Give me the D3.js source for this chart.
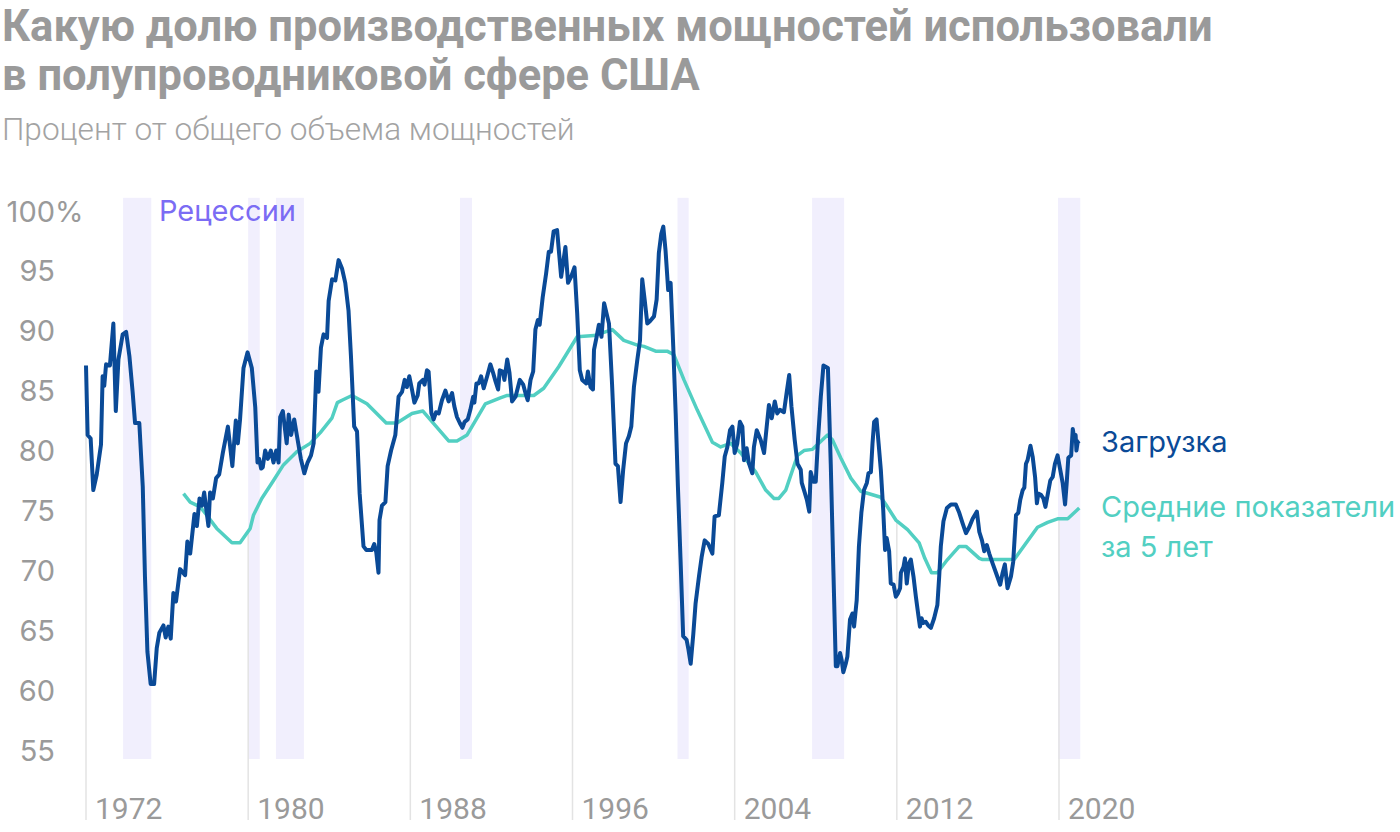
<!DOCTYPE html>
<html>
<head>
<meta charset="utf-8">
<script src="https://cdn.jsdelivr.net/npm/d3@7"></script>
<style>
  body { margin: 0; background: #fff; }
  svg { display: block; }
</style>
</head>
<body>
<div id="chart"></div>
<script>
// Utilisation, % of capacity
const loadYears = [
  1972.00, 1972.08, 1972.23, 1972.36, 1972.53, 1972.74, 1972.82, 1972.90, 1972.99, 1973.18,
  1973.35, 1973.47, 1973.60, 1973.81, 1973.98, 1974.14, 1974.30, 1974.42, 1974.63, 1974.80,
  1974.91, 1975.03, 1975.19, 1975.36, 1975.49, 1975.62, 1975.82, 1975.93, 1976.06, 1976.18,
  1976.31, 1976.44, 1976.64, 1976.89, 1977.00, 1977.14, 1977.35, 1977.47, 1977.60, 1977.72,
  1977.83, 1978.04, 1978.12, 1978.26, 1978.42, 1978.57, 1978.75, 1979.00, 1979.22, 1979.39,
  1979.49, 1979.60, 1979.77, 1979.97, 1980.18, 1980.35, 1980.46, 1980.54, 1980.64, 1980.72,
  1980.84, 1980.97, 1981.12, 1981.25, 1981.38, 1981.50, 1981.58, 1981.71, 1981.90, 1982.00,
  1982.12, 1982.27, 1982.40, 1982.60, 1982.77, 1982.93, 1983.10, 1983.23, 1983.36, 1983.47,
  1983.59, 1983.72, 1983.89, 1983.97, 1984.14, 1984.30, 1984.46, 1984.63, 1984.79, 1984.95,
  1985.07, 1985.23, 1985.37, 1985.50, 1985.69, 1985.83, 1986.10, 1986.22, 1986.32, 1986.43,
  1986.48, 1986.60, 1986.77, 1986.88, 1987.05, 1987.26, 1987.42, 1987.59, 1987.72, 1987.83,
  1987.95, 1988.08, 1988.20, 1988.36, 1988.44, 1988.62, 1988.70, 1988.82, 1988.90, 1989.04,
  1989.15, 1989.27, 1989.40, 1989.56, 1989.73, 1989.89, 1990.06, 1990.17, 1990.30, 1990.44,
  1990.57, 1990.68, 1990.83, 1990.96, 1991.10, 1991.16, 1991.26, 1991.37, 1991.49, 1991.62,
  1991.79, 1991.95, 1992.08, 1992.20, 1992.33, 1992.41, 1992.56, 1992.64, 1992.78, 1992.89,
  1993.02, 1993.19, 1993.40, 1993.57, 1993.68, 1993.79, 1993.93, 1994.06, 1994.17, 1994.29,
  1994.38, 1994.53, 1994.70, 1994.83, 1994.94, 1995.07, 1995.24, 1995.44, 1995.65, 1995.78,
  1995.93, 1996.10, 1996.23, 1996.36, 1996.48, 1996.68, 1996.76, 1996.89, 1997.01, 1997.06,
  1997.18, 1997.30, 1997.43, 1997.56, 1997.80, 1997.95, 1998.12, 1998.24, 1998.37, 1998.50,
  1998.64, 1998.78, 1998.90, 1999.03, 1999.20, 1999.33, 1999.44, 1999.56, 1999.69, 1999.82,
  2000.02, 2000.15, 2000.26, 2000.38, 2000.48, 2000.59, 2000.72, 2000.84, 2000.97, 2001.09,
  2001.20, 2001.33, 2001.46, 2001.63, 2001.72, 2001.83, 2001.96, 2002.07, 2002.24, 2002.37,
  2002.52, 2002.70, 2002.90, 2003.01, 2003.22, 2003.39, 2003.51, 2003.64, 2003.77, 2003.89,
  2004.00, 2004.13, 2004.26, 2004.38, 2004.46, 2004.59, 2004.71, 2004.87, 2004.95, 2005.09,
  2005.28, 2005.45, 2005.58, 2005.69, 2005.83, 2005.98, 2006.10, 2006.23, 2006.43, 2006.57,
  2006.69, 2006.80, 2006.96, 2007.10, 2007.26, 2007.31, 2007.42, 2007.56, 2007.68, 2007.75,
  2007.88, 2008.00, 2008.11, 2008.25, 2008.38, 2008.49, 2008.60, 2008.74, 2008.87, 2008.99,
  2009.07, 2009.20, 2009.28, 2009.36, 2009.48, 2009.56, 2009.69, 2009.81, 2009.89, 2010.02,
  2010.13, 2010.25, 2010.38, 2010.52, 2010.60, 2010.72, 2010.80, 2010.88, 2011.00, 2011.10,
  2011.21, 2011.33, 2011.42, 2011.50, 2011.62, 2011.70, 2011.84, 2011.95, 2012.06, 2012.16,
  2012.20, 2012.33, 2012.40, 2012.49, 2012.60, 2012.69, 2012.82, 2012.94, 2013.05, 2013.14,
  2013.22, 2013.30, 2013.43, 2013.55, 2013.68, 2013.84, 2014.00, 2014.09, 2014.17, 2014.30,
  2014.47, 2014.67, 2014.91, 2015.08, 2015.25, 2015.41, 2015.57, 2015.74, 2015.95, 2016.07,
  2016.20, 2016.31, 2016.44, 2016.56, 2016.72, 2016.89, 2017.10, 2017.22, 2017.33, 2017.46,
  2017.63, 2017.74, 2017.88, 2017.99, 2018.09, 2018.21, 2018.29, 2018.37, 2018.45, 2018.59,
  2018.70, 2018.82, 2018.91, 2018.98, 2019.11, 2019.23, 2019.33, 2019.44, 2019.57, 2019.69,
  2019.80, 2019.93, 2020.05, 2020.18, 2020.30, 2020.38, 2020.46, 2020.60, 2020.68, 2020.76,
  2020.82, 2020.86, 2020.92, 2021.00
];
const loadValues = [
  87.1, 81.3, 81.0, 76.7, 78.0, 80.5, 86.2, 85.4, 87.2, 87.1,
  90.6, 83.3, 87.6, 89.7, 89.9, 87.9, 84.9, 82.3, 82.3, 77.0,
  69.4, 63.2, 60.5, 60.5, 63.5, 64.8, 65.4, 64.4, 65.3, 64.3,
  68.1, 67.4, 70.1, 69.6, 72.4, 71.4, 74.7, 73.7, 76.0, 75.4,
  76.5, 73.7, 76.5, 76.0, 77.7, 78.0, 79.8, 82.0, 78.7, 82.5,
  80.6, 82.6, 86.9, 88.2, 86.9, 83.6, 79.0, 79.3, 78.5, 78.6,
  80.0, 79.3, 80.0, 79.0, 80.0, 79.0, 82.8, 83.3, 80.6, 83.0,
  81.3, 82.6, 81.3, 79.3, 78.1, 79.0, 79.6, 80.6, 86.6, 84.9,
  88.6, 89.7, 89.4, 92.5, 94.3, 94.2, 95.9, 95.2, 94.0, 91.7,
  87.9, 82.0, 81.6, 76.4, 72.0, 71.7, 71.7, 72.2, 71.5, 69.8,
  74.2, 75.4, 75.7, 78.7, 80.0, 81.3, 84.5, 84.9, 85.9, 85.3,
  86.2, 85.1, 84.0, 84.6, 85.6, 85.9, 85.5, 86.7, 86.6, 83.1,
  82.6, 83.2, 83.1, 84.2, 85.0, 84.1, 84.8, 83.7, 82.8, 82.3,
  81.9, 82.4, 82.6, 83.4, 84.5, 84.0, 85.6, 85.6, 86.2, 85.2,
  86.2, 87.2, 86.5, 85.8, 85.1, 86.7, 86.6, 85.9, 87.6, 86.5,
  84.1, 84.5, 85.9, 85.5, 84.8, 84.2, 85.9, 86.6, 90.1, 90.9,
  90.5, 92.8, 94.8, 96.6, 96.6, 98.3, 98.4, 94.5, 97.0, 94.0,
  94.5, 95.3, 91.5, 86.7, 85.9, 85.6, 86.6, 85.3, 85.1, 88.4,
  89.4, 90.5, 89.5, 92.3, 90.6, 85.6, 78.9, 78.7, 75.7, 78.4,
  80.6, 81.2, 82.0, 85.3, 87.6, 89.2, 94.3, 92.6, 90.6, 90.8,
  91.2, 92.6, 96.5, 98.1, 98.7, 96.7, 93.4, 94.0, 88.7, 83.1,
  77.0, 70.9, 64.5, 64.2, 63.4, 62.2, 64.7, 67.2, 69.5, 71.1,
  72.5, 72.2, 71.4, 74.5, 74.6, 77.3, 79.5, 80.3, 81.7, 82.0,
  79.8, 80.6, 82.4, 82.0, 79.2, 80.2, 78.9, 78.1, 80.3, 81.7,
  80.9, 79.8, 82.0, 83.8, 82.7, 84.1, 83.1, 83.4, 83.2, 84.9,
  86.3, 83.7, 80.9, 78.9, 78.4, 77.3, 76.7, 75.9, 74.9, 78.2,
  77.4, 77.4, 80.9, 84.5, 87.1, 87.0, 86.9, 78.9, 70.0, 62.0,
  62.0, 63.1, 62.5, 61.5, 62.2, 62.8, 65.9, 66.4, 65.3, 67.5,
  72.0, 74.8, 76.7, 77.3, 78.1, 78.2, 80.6, 82.4, 82.6, 80.6,
  78.4, 75.0, 71.7, 72.7, 71.6, 68.9, 68.8, 67.8, 68.1, 68.5,
  69.8, 70.3, 71.0, 68.9, 70.6, 70.9, 69.5, 67.8, 66.4, 65.3,
  66.0, 65.6, 65.7, 65.4, 65.2, 66.0, 67.1, 69.5, 72.0, 74.1,
  75.2, 75.5, 75.5, 74.8, 73.9, 73.1, 73.6, 74.3, 74.9, 73.2,
  72.5, 71.6, 72.1, 71.4, 70.6, 69.8, 68.8, 69.8, 70.5, 68.5,
  69.5, 70.7, 74.6, 74.8, 75.9, 76.7, 76.9, 78.9, 79.2, 80.4,
  79.5, 77.8, 75.6, 76.4, 76.3, 76.0, 75.3, 76.3, 77.5, 77.8,
  78.9, 79.6, 78.5, 77.3, 75.5, 77.3, 79.4, 79.6, 81.8, 80.9,
  81.3, 80.0, 80.7, 80.8
];

// 5-year average
const avgYears = [
  1976.81, 1977.14, 1977.63, 1977.96, 1978.45, 1979.20, 1979.60, 1980.10, 1980.26, 1980.67,
  1981.25, 1981.74, 1982.40, 1983.06, 1983.56, 1984.13, 1984.40, 1984.63, 1985.12, 1985.86,
  1986.81, 1987.34, 1988.08, 1988.62, 1989.89, 1990.30, 1990.80, 1991.70, 1992.44, 1992.78,
  1994.09, 1994.58, 1995.32, 1996.23, 1997.06, 1997.96, 1998.53, 1999.20, 1999.52, 2000.10,
  2000.67, 2001.00, 2001.50, 2002.15, 2002.90, 2003.31, 2003.80, 2004.30, 2005.04, 2005.53,
  2005.94, 2006.18, 2006.52, 2007.10, 2007.42, 2007.84, 2008.58, 2008.82, 2009.23, 2009.73,
  2010.22, 2011.21, 2011.46, 2011.95, 2012.53, 2013.10, 2013.38, 2013.71, 2014.00, 2014.50,
  2015.08, 2015.41, 2016.07, 2016.23, 2017.79, 2018.94, 2019.44, 2019.93, 2020.43, 2021.00
];
const avgValues = [
  76.4, 75.7, 75.3, 74.6, 73.5, 72.3, 72.3, 73.5, 74.6, 76.0,
  77.5, 78.8, 79.9, 80.6, 81.5, 82.7, 84.0, 84.2, 84.6, 83.9,
  82.3, 82.3, 83.1, 83.3, 80.8, 80.8, 81.3, 83.9, 84.4, 84.6,
  84.6, 85.2, 87.0, 89.5, 89.6, 90.1, 89.2, 88.8, 88.7, 88.3,
  88.3, 88.0, 85.9, 83.4, 80.7, 80.3, 80.6, 79.8, 78.2, 76.7,
  76.0, 76.0, 76.7, 79.6, 80.0, 80.1, 81.3, 80.9, 79.4, 77.7,
  76.6, 76.1, 75.5, 74.2, 73.4, 72.3, 71.0, 69.8, 69.8, 70.9,
  72.0, 72.0, 71.0, 70.9, 70.9, 73.6, 74.0, 74.3, 74.3, 75.2
];

// Recessions (start, end as fractional years)
const recessionStarts = [1973.83, 1980.0, 1981.37, 1990.45, 2001.18, 2007.82, 2019.95];
const recessionEnds   = [1975.22, 1980.57, 1982.75, 1991.04, 2001.73, 2009.4, 2021.05];

const yTicks = [55, 60, 65, 70, 75, 80, 85, 90, 95, 100];
const xTicks = [1972, 1980, 1988, 1996, 2004, 2012, 2020];

const titleLines = ['Какую долю производственных мощностей использовали', 'в полупроводниковой сфере США'];
const subtitle = 'Процент от общего объема мощностей';
const recessionLabel = 'Рецессии';
const loadLabel = 'Загрузка';
const avgLabel = ['Средние показатели', 'за 5 лет'];

const width = 1400, height = 832;
const colLoad = '#0a4a97';
const colAvg = '#52cfc2';
const colGrey = '#9a9a9a';

const svg = d3.select('#chart').append('svg')
    .attr('width', width)
    .attr('height', height);

const x = d3.scaleLinear().domain([1972, 2020]).range([86, 1059]);
const y = d3.scaleLinear().domain([55, 100]).range([750, 211]);

const load = loadYears.map((yr, i) => ({ yr: yr, v: loadValues[i] }));
const avg = avgYears.map((yr, i) => ({ yr: yr, v: avgValues[i] }));
const recessions = recessionStarts.map((s, i) => ({ s: s, e: recessionEnds[i] }));

// Recession bands
svg.append('g')
    .selectAll('rect')
    .data(recessions)
    .enter()
    .append('rect')
    .attr('x', d => x(d.s))
    .attr('width', d => x(d.e) - x(d.s))
    .attr('y', y(101.1))
    .attr('height', y(54.25) - y(101.1))
    .attr('fill', '#f1effd');

// Vertical year lines run up to the 5-year average (or the first point)
const avgAt = d3.scaleLinear().domain(avgYears).range(avgValues).clamp(true);
svg.append('g')
    .selectAll('line')
    .data(xTicks)
    .enter()
    .append('line')
    .attr('x1', d => x(d))
    .attr('x2', d => x(d))
    .attr('y1', 820)
    .attr('y2', d => y(d < avgYears[0] ? loadValues[0] : avgAt(d)))
    .attr('stroke', '#e3e3e3')
    .attr('stroke-width', 1.5);

// Year labels
svg.append('g')
    .selectAll('text')
    .data(xTicks)
    .enter()
    .append('text')
    .attr('x', d => x(d) + 9)
    .attr('y', 819)
    .attr('fill', colGrey)
    .attr('font-family', 'Roboto, sans-serif')
    .attr('font-size', '30px')
    .text(d => d);

// Value labels
svg.append('g')
    .selectAll('text')
    .data(yTicks)
    .enter()
    .append('text')
    .attr('x', 55)
    .attr('y', d => y(d) + 10.5)
    .attr('text-anchor', 'end')
    .attr('fill', colGrey)
    .attr('font-family', 'Inter, sans-serif')
    .attr('font-size', '29px')
    .text(d => d);

svg.append('text')
    .attr('x', 55)
    .attr('y', y(100) + 10.5)
    .attr('fill', colGrey)
    .attr('font-family', 'Inter, sans-serif')
    .attr('font-size', '29px')
    .text('%');

// Lines
const line = d3.line()
    .x(d => x(d.yr))
    .y(d => y(d.v));

svg.append('path')
    .datum(avg)
    .attr('d', line)
    .attr('fill', 'none')
    .attr('stroke', colAvg)
    .attr('stroke-width', 3.5)
    .attr('stroke-linejoin', 'round');

svg.append('path')
    .datum(load)
    .attr('d', line)
    .attr('fill', 'none')
    .attr('stroke', colLoad)
    .attr('stroke-width', 4)
    .attr('stroke-linejoin', 'round');

// Recession label
svg.append('text')
    .attr('x', 159)
    .attr('y', 221)
    .attr('fill', '#7b6cf4')
    .attr('font-family', 'Inter, sans-serif')
    .attr('font-size', '29px')
    .text(recessionLabel);

// Series labels
svg.append('text')
    .attr('x', 1101)
    .attr('y', 452)
    .attr('fill', colLoad)
    .attr('font-family', 'Inter, sans-serif')
    .attr('font-size', '29px')
    .text(loadLabel);

svg.append('text')
    .attr('fill', colAvg)
    .attr('font-family', 'Inter, sans-serif')
    .attr('font-size', '29px')
    .selectAll('tspan')
    .data(avgLabel)
    .enter()
    .append('tspan')
    .attr('x', 1101)
    .attr('y', (d, i) => 517 + i * 40)
    .text(d => d);

// Title and subtitle
svg.append('text')
    .attr('fill', colGrey)
    .attr('font-family', 'Roboto, sans-serif')
    .attr('font-weight', 700)
    .attr('font-size', '43.5px')
    .selectAll('tspan')
    .data(titleLines)
    .enter()
    .append('tspan')
    .attr('x', 2)
    .attr('y', (d, i) => 41 + i * 49)
    .text(d => d);

svg.append('text')
    .attr('x', 2)
    .attr('y', 140)
    .attr('fill', '#a3a3a3')
    .attr('font-family', 'Roboto, sans-serif')
    .attr('font-weight', 300)
    .attr('font-size', '31.6px')
    .text(subtitle);
</script>
</body>
</html>
